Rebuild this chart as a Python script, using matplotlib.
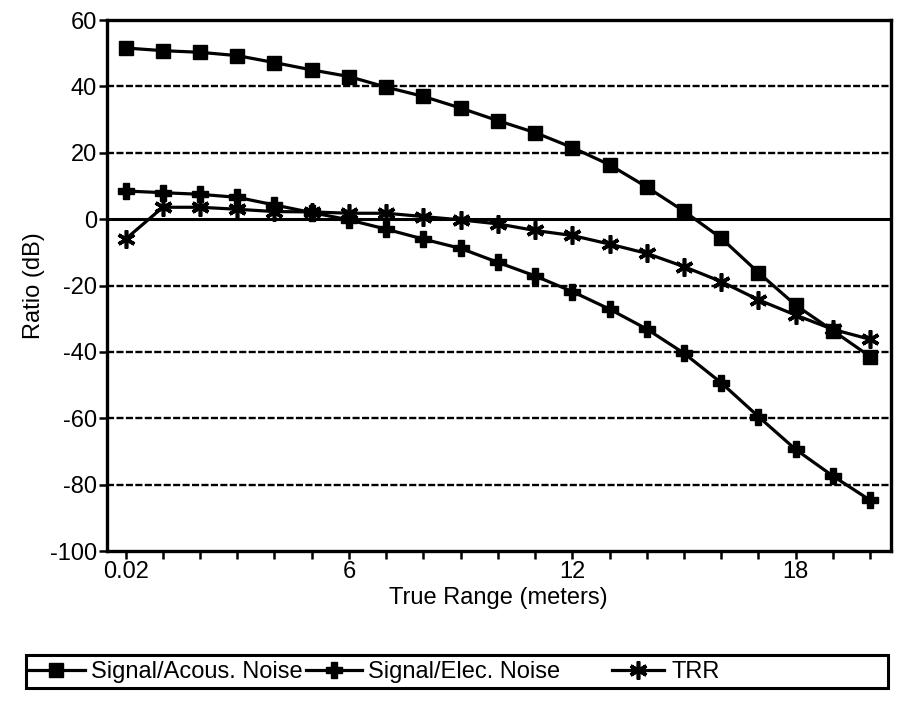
import matplotlib
matplotlib.use("Agg")
import matplotlib.pyplot as plt
from matplotlib.patches import Rectangle

plt.rcParams['font.family'] = ['Liberation Sans Narrow', 'Liberation Sans', 'DejaVu Sans']

# Range categories (meters)
ranges = ["0.02"] + [str(i) for i in range(1, 21)]
tick_labels = {0: "0.02", 6: "6", 12: "12", 18: "18"}

# Ratios in dB
sig_acous = [51.6, 50.8, 50.3, 49.3, 47.2, 45.0, 43.0, 39.8, 37.0, 33.5, 29.7,
             26.1, 21.6, 16.4, 9.7, 2.4, -5.7, -16.1, -25.9, -33.6, -41.4]
sig_elec = [8.5, 8.0, 7.5, 6.6, 4.3, 2.0, -0.2, -3.0, -6.0, -8.8, -13.0,
            -17.1, -21.8, -27.1, -33.1, -40.4, -49.3, -59.5, -69.4, -77.4, -84.7]
trr = [-6.0, 3.6, 3.6, 3.0, 2.3, 2.2, 1.8, 1.8, 0.8, -0.2, -1.4,
       -3.4, -4.9, -7.5, -10.3, -14.3, -18.8, -24.3, -28.9, -33.2, -36.2]

yticks = list(range(-100, 61, 20))

fig = plt.figure(figsize=(9.22, 7.06), dpi=100)
ax = fig.add_axes([0.116, 0.2195, 0.85, 0.752])

x = list(range(len(ranges)))
lw = 2.3
asterisk = (6, 2, 0)
ax.plot(x, sig_acous, color='black', lw=lw, marker='s', markersize=10.5, zorder=4,
        label='Signal/Acous. Noise')
ax.plot(x, sig_elec, color='black', lw=lw, marker='P', markersize=12, zorder=4,
        label='Signal/Elec. Noise')
ax.plot(x, trr, color='black', lw=lw, marker=asterisk, markersize=13,
        markeredgewidth=2.6, zorder=4, label='TRR')

# horizontal grid: dashed, zero line solid
for v in yticks:
    if v in (-100, 60):
        continue
    if v == 0:
        ax.axhline(v, color='black', lw=2.2, zorder=2)
    else:
        ax.axhline(v, color='black', lw=1.7, ls=(0, (3, 1.0)), zorder=2)

ax.set_xlim(-0.5, 20.55)
ax.set_ylim(-100, 60)
ax.set_yticks(yticks)
ax.set_yticklabels([str(v) for v in yticks])
ax.set_xticks(x)
ax.set_xticklabels([tick_labels.get(i, "") for i in x])

for s in ax.spines.values():
    s.set_linewidth(2.4)
ax.tick_params(axis='both', direction='out', length=6, width=1.8,
               labelsize=17, pad=1, color='black')

ax.set_xlabel("True Range (meters)", fontsize=17, labelpad=3)
ax.set_ylabel("Ratio (dB)", fontsize=17, labelpad=4)

# legend box below the axes
fig.patches.append(Rectangle((26 / 922, 1 - 688 / 706), 862 / 922, 33 / 706,
                             transform=fig.transFigure, fill=False,
                             edgecolor='black', lw=2.2))
h, l = ax.get_legend_handles_labels()
leg1 = fig.legend(h[:2], l[:2], loc='center left',
                  bbox_to_anchor=(28 / 922, 1 - 672 / 706), ncol=2,
                  frameon=False, fontsize=17, handlelength=2.4,
                  handletextpad=0.25, columnspacing=0.15, borderaxespad=0,
                  borderpad=0)
leg2 = fig.legend(h[2:], l[2:], loc='center left',
                  bbox_to_anchor=(612 / 922, 1 - 672 / 706), ncol=1,
                  frameon=False, fontsize=17, handlelength=2.2,
                  handletextpad=0.3, borderaxespad=0, borderpad=0)

fig.savefig("out.png", dpi=100)
